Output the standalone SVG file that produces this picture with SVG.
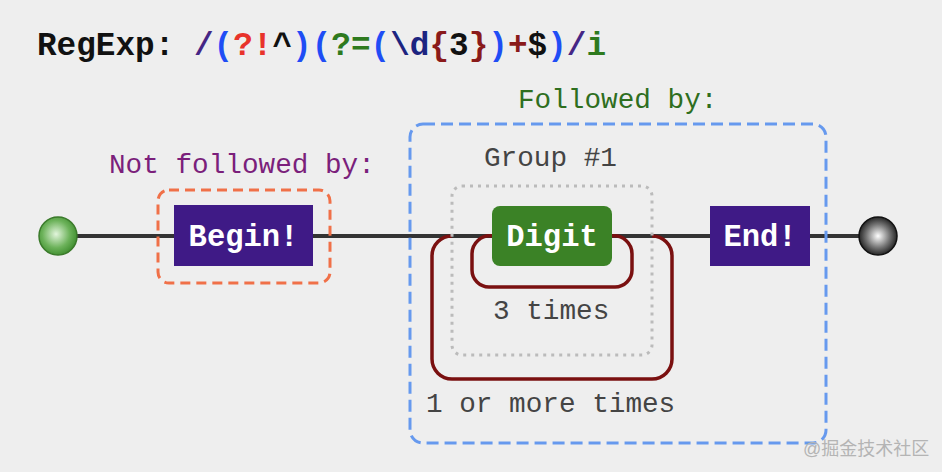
<svg xmlns="http://www.w3.org/2000/svg" width="942" height="472" viewBox="0 0 942 472">
<defs>
<radialGradient id="gGreen" cx="0.45" cy="0.45" r="0.6">
<stop offset="0" stop-color="#e2f5dc"/>
<stop offset="0.6" stop-color="#6cb25a"/>
<stop offset="1" stop-color="#3a8a2a"/>
</radialGradient>
<radialGradient id="gBlack" cx="0.5" cy="0.5" r="0.55">
<stop offset="0" stop-color="#ffffff"/>
<stop offset="0.55" stop-color="#777777"/>
<stop offset="1" stop-color="#111111"/>
</radialGradient>
<style>
.mono{font-family:"Liberation Mono","Courier New",monospace;}
.lbl{font-family:"Liberation Mono","Courier New",monospace;font-size:27.7px;}
.box{font-family:"Liberation Mono","Courier New",monospace;font-size:30.5px;font-weight:bold;fill:#ffffff;text-anchor:middle;}
.gray{fill:#444444;}
.loop{fill:none;stroke:#7a1010;stroke-width:3.5;}
</style>
</defs>
<rect width="942" height="472" fill="#eeeeee"/>

<text class="mono" x="37" y="55" font-size="32.7" font-weight="bold" fill="#111"><tspan>RegExp: </tspan><tspan fill="#452685">/</tspan><tspan fill="#1f4df5">(</tspan><tspan fill="#e8332b">?!</tspan><tspan fill="#111">^</tspan><tspan fill="#1f4df5">)(</tspan><tspan fill="#2e7a1e">?=</tspan><tspan fill="#1f4df5">(</tspan><tspan fill="#1c2480">\d</tspan><tspan fill="#8a1a1a">{</tspan><tspan fill="#111">3</tspan><tspan fill="#8a1a1a">}</tspan><tspan fill="#1f4df5">)</tspan><tspan fill="#8a1a1a">+</tspan><tspan fill="#111">$</tspan><tspan fill="#1f4df5">)</tspan><tspan fill="#452685">/</tspan><tspan fill="#2e7a1e">i</tspan></text>

<g id="connectors">
<line x1="58" y1="236" x2="878" y2="236" stroke="#333333" stroke-width="4"/>
<path class="loop" d="M 492 236 A 18 18 0 0 0 472 254 V 270 A 17 17 0 0 0 489 287 H 615 A 17 17 0 0 0 632 270 V 254 A 18 18 0 0 0 612 236"/>
<path class="loop" d="M 452 236 A 20 20 0 0 0 432 256 V 359 A 20 20 0 0 0 452 379 H 652 A 20 20 0 0 0 672 359 V 256 A 20 20 0 0 0 652 236"/>
</g>

<g id="lookahead">
<rect x="410" y="124" width="416" height="319" rx="13" fill="none" stroke="#6699ee" stroke-width="3" stroke-dasharray="12 6"/>
<text class="lbl" x="518" y="108" fill="#2e6e1e">Followed by:</text>
</g>

<g id="negative-lookahead">
<rect x="158" y="190" width="172" height="93" rx="11" fill="none" stroke="#f07048" stroke-width="3" stroke-dasharray="10 6"/>
<text class="lbl" x="109" y="173" fill="#7b1f7b">Not followed by:</text>
</g>

<g id="group1">
<rect x="452" y="186" width="200" height="169" rx="10" fill="none" stroke="#bbbbbb" stroke-width="3" stroke-dasharray="3 5"/>
<text class="lbl gray" x="484" y="166">Group #1</text>
</g>

<g id="start">
<circle cx="58" cy="236" r="19" fill="url(#gGreen)" stroke="#3a7a2a" stroke-width="1.5"/>
</g>

<g id="begin">
<rect x="174" y="205" width="139" height="61" fill="#3f1a86"/>
<text class="box" x="243.5" y="246">Begin!</text>
</g>

<g id="digit">
<rect x="492" y="206" width="120" height="60" rx="8" fill="#3b8226"/>
<text class="box" x="552" y="246">Digit</text>
</g>

<g id="times3">
<text class="lbl gray" x="493" y="319">3 times</text>
</g>

<g id="times1">
<text class="lbl gray" x="426" y="412">1 or more times</text>
</g>

<g id="end">
<rect x="710" y="206" width="100" height="60" fill="#3f1a86"/>
<text class="box" x="760" y="246">End!</text>
</g>

<g id="finish">
<circle cx="878" cy="236" r="19" fill="url(#gBlack)" stroke="#111" stroke-width="1.5"/>
</g>

<text x="803" y="455" font-family="'Liberation Sans','Noto Sans CJK SC',sans-serif" font-size="18" fill="#b4b4b4">@掘金技术社区</text>
</svg>
